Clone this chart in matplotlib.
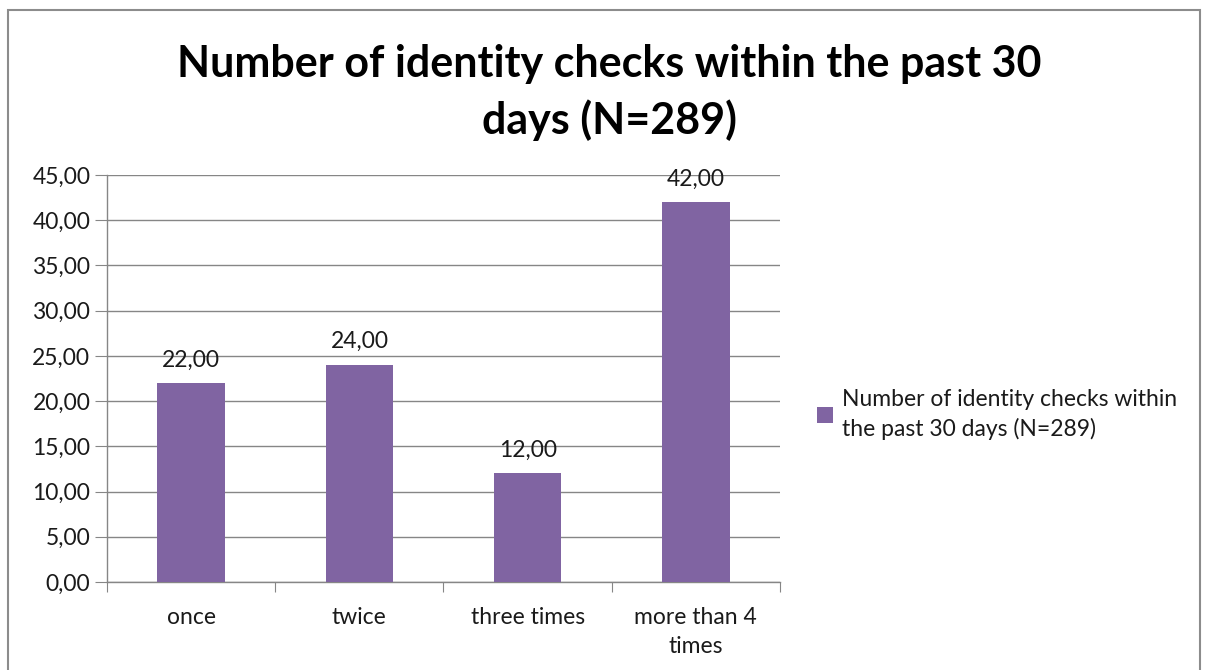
import matplotlib
matplotlib.use("Agg")
from matplotlib import pyplot as plt
from matplotlib.patches import Rectangle
from matplotlib.ticker import FuncFormatter, FixedLocator

categories = ["once", "twice", "three times", "more than 4\ntimes"]
values = [22.0, 24.0, 12.0, 42.0]
series_name = "Number of identity checks within\nthe past 30 days (N=289)"
title = "Number of identity checks within the past 30\ndays (N=289)"

plt.rcParams['font.family'] = ['Lato', 'DejaVu Sans']

bar_color = '#8064A2'
grid_color = '#868686'
text_color = '#1a1a1a'
fs = 16.5


def comma(v, pos=None):
    return ("%.2f" % v).replace('.', ',')


fig = plt.figure(figsize=(12.07, 6.70), dpi=100)
ax = fig.add_axes([107 / 1207, 1 - 582 / 670, (780 - 107) / 1207, (582 - 175) / 670])

# outer chart border
fig.patches.append(Rectangle((8 / 1207, -0.05), (1200 - 8) / 1207, 1.05 - 10 / 670,
                             transform=fig.transFigure, fill=False,
                             edgecolor='#8c8c8c', linewidth=1.5))

x = list(range(len(categories)))
bars = ax.bar(x, values, width=0.4, color=bar_color, zorder=3, label=series_name)

for b, v in zip(bars, values):
    ax.text(b.get_x() + b.get_width() / 2, v + 1.4, comma(v), ha='center', va='bottom',
            fontsize=fs, color=text_color)

ax.set_xlim(-0.5, len(categories) - 0.5)
ax.set_ylim(0, 45)
ax.set_yticks(range(0, 46, 5))
ax.yaxis.set_major_formatter(FuncFormatter(comma))
ax.yaxis.grid(True, color=grid_color, linewidth=1, zorder=0)

# category boundary ticks, labels centred
ax.xaxis.set_major_locator(FixedLocator([i - 0.5 for i in range(len(categories) + 1)]))
ax.xaxis.set_major_formatter(FuncFormatter(lambda v, p: ""))
ax.xaxis.set_minor_locator(FixedLocator(x))
ax.set_xticklabels(categories, minor=True, linespacing=1.45)
ax.tick_params(axis='x', which='minor', length=0, pad=18, labelsize=fs, labelcolor=text_color)
ax.tick_params(axis='x', which='major', length=7, color=grid_color)
ax.tick_params(axis='y', length=9, color=grid_color, labelsize=fs, labelcolor=text_color, pad=3)

for s in ['top', 'right']:
    ax.spines[s].set_visible(False)
for s in ['left', 'bottom']:
    ax.spines[s].set_color(grid_color)
    ax.spines[s].set_linewidth(1)

fig.text(0.505, 0.935, title, ha='center', va='top', fontsize=31, fontweight='bold',
         color='black', linespacing=1.45)

fig.legend(handles=[bars], labels=[series_name], loc='upper left',
           bbox_to_anchor=(796 / 1207, 1 - 368 / 670), frameon=False,
           fontsize=fs, handlelength=0.7, handleheight=0.7, handletextpad=0.4,
           labelcolor=text_color, labelspacing=0)
for t in fig.legends[0].get_texts():
    t.set_linespacing(1.45)

fig.savefig("out.png", dpi=100)
